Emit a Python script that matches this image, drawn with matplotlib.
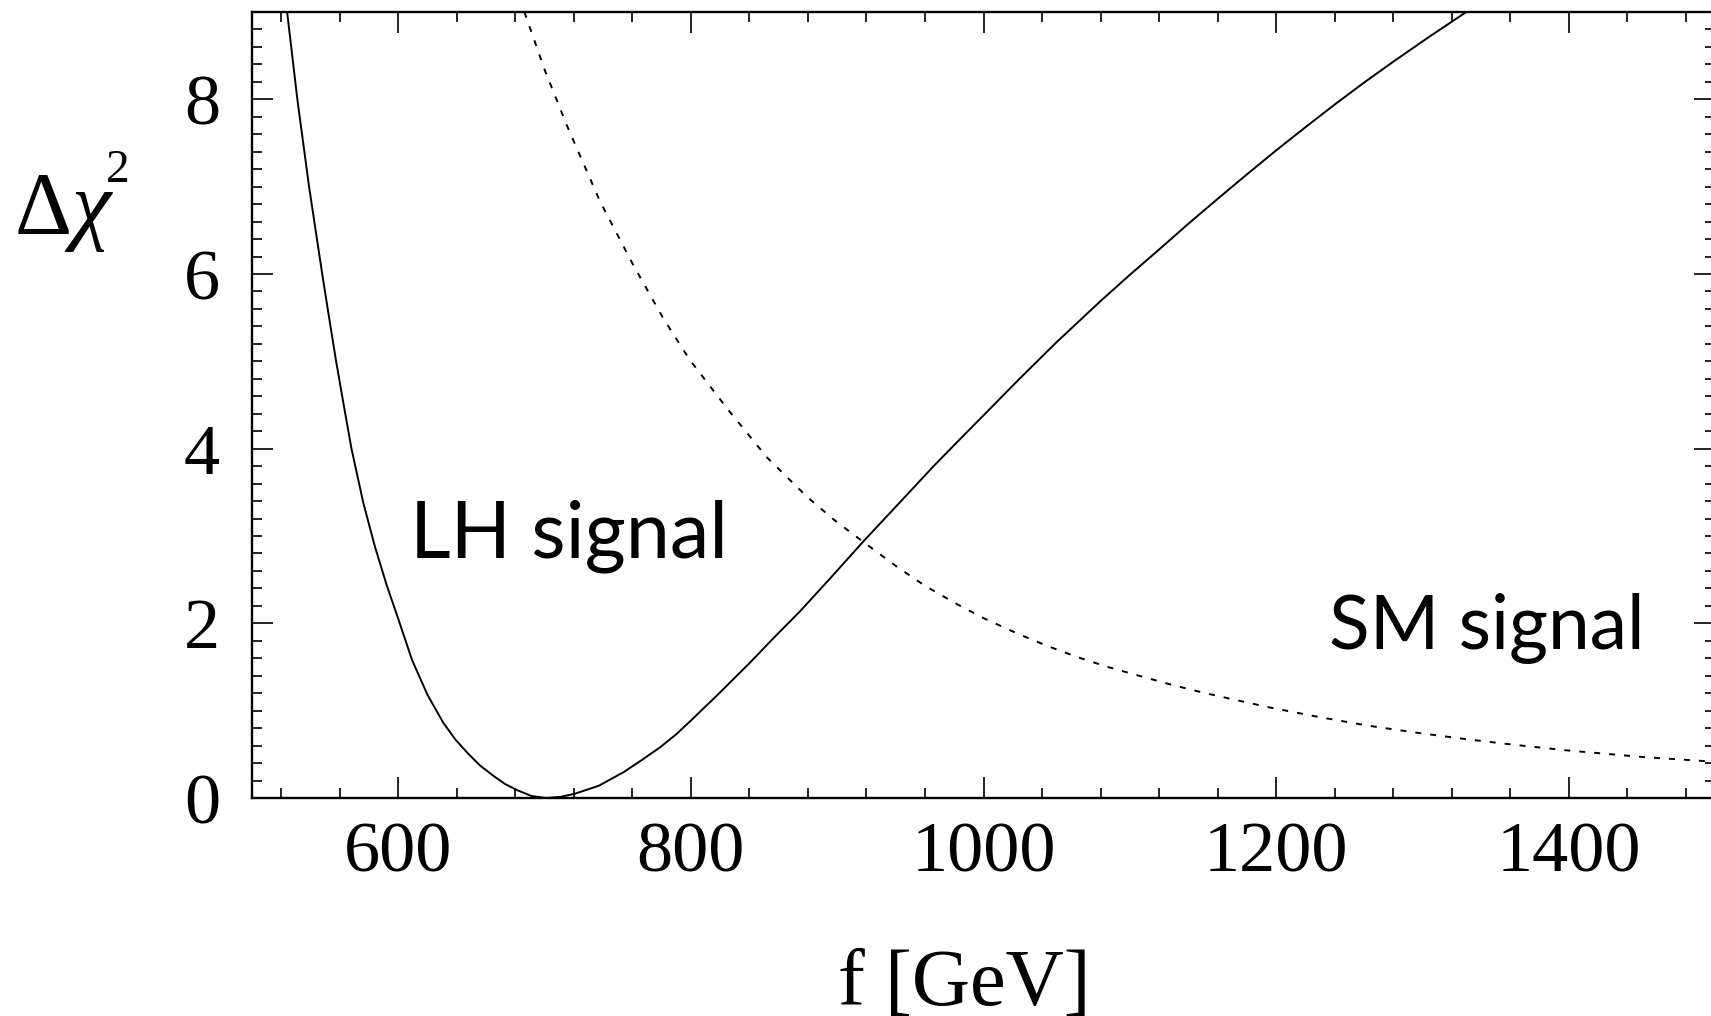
import numpy as np
import matplotlib
matplotlib.use("Agg")
import matplotlib.pyplot as plt
from matplotlib.ticker import MultipleLocator

# solid curve (LH signal fit)
lh_f = [524, 527.5, 531, 535, 539, 543.5, 548, 552.7, 557.5, 562.7, 568, 576,
        584, 592, 600, 609.4, 620, 630.8, 639, 647.6, 656, 665.8, 673, 681.2,
        691, 701, 711, 720.9, 737, 754.4, 766, 778.9, 790, 800.2, 820, 839.8,
        857, 874.7, 896, 918, 942, 965.9, 984, 1002.3, 1024, 1050, 1080, 1100,
        1120, 1140, 1160, 1180, 1200, 1220, 1240, 1260, 1280, 1305, 1330]
lh_chi2 = [9.0, 8.5, 8.0, 7.5, 7.0, 6.5, 6.0, 5.5, 5.0, 4.5, 4.0, 3.385,
           2.88, 2.44, 2.05, 1.58, 1.18, 0.86, 0.67, 0.51, 0.37, 0.244, 0.16, 0.09,
           0.023, 0.0, 0.013, 0.05, 0.14, 0.30, 0.43, 0.58, 0.73, 0.89, 1.21, 1.54,
           1.84, 2.14, 2.53, 2.94, 3.37, 3.80, 4.11, 4.42, 4.79, 5.22, 5.69, 5.99,
           6.28, 6.575, 6.86, 7.14, 7.415, 7.68, 7.94, 8.19, 8.43, 8.72, 9.0]

# dotted curve (SM signal)
sm_f = [686.2, 700, 715, 737.9, 760.7, 781.2, 799.5, 825.7, 852, 879.3, 897.5,
        918, 941.5, 960, 981.8, 1000, 1022.9, 1043, 1063.9, 1085, 1109.5, 1130,
        1150.5, 1173, 1196.1, 1230, 1262.2, 1295, 1330.6, 1365, 1398.9, 1450, 1500]
sm_chi2 = [9.0, 8.34, 7.71, 6.83, 6.10, 5.49, 5.01, 4.44, 3.90, 3.45, 3.19,
           2.93, 2.64, 2.43, 2.22, 2.06, 1.885, 1.745, 1.615, 1.50, 1.385, 1.29,
           1.205, 1.12, 1.035, 0.925, 0.83, 0.75, 0.672, 0.605, 0.545, 0.47, 0.415]

x_ticks = [600, 800, 1000, 1200, 1400]
y_ticks = [0, 2, 4, 6, 8]

plt.rcParams['mathtext.fontset'] = 'custom'
plt.rcParams['mathtext.rm'] = 'Liberation Serif'
plt.rcParams['mathtext.it'] = 'Liberation Serif:italic'
plt.rcParams['lines.scale_dashes'] = False

W, H = 1711, 1016
fig = plt.figure(figsize=(W / 100, H / 100), dpi=100)
ax = fig.add_axes([252 / W, (H - 798) / H, (1715 - 252) / W, (798 - 12) / H])

ax.plot(lh_f, lh_chi2, color='black', lw=1.4)
ax.plot(sm_f, sm_chi2, color='black', lw=1.4, dashes=(4.3, 6.5))

ax.set_xlim(500, 1500)
ax.set_ylim(0, 9)
ax.set_xticks(x_ticks)
ax.set_yticks(y_ticks)
ax.xaxis.set_minor_locator(MultipleLocator(40))
ax.yaxis.set_minor_locator(MultipleLocator(0.2))

for sp in ax.spines.values():
    sp.set_linewidth(1.7)
ax.tick_params(which='both', direction='in', top=True, right=True, width=1.2)
ax.tick_params(which='major', length=15)
ax.tick_params(which='minor', length=7.2)
ax.tick_params(axis='x', which='major', pad=17)
ax.tick_params(axis='y', which='major', pad=23)
for lab in ax.get_xticklabels() + ax.get_yticklabels():
    lab.set_fontfamily('Liberation Serif')
    lab.set_fontsize(52)

ax.text(608, 2.75, 'LH signal', family='Lato', fontsize=57, ha='left', va='baseline')
ax.text(1236, 1.707, 'SM signal', family='Lato', fontsize=54, ha='left', va='baseline')

fig.text(964.5 / W, (H - 1005) / H, 'f [GeV]', family='Liberation Serif',
         fontsize=58, ha='center', va='baseline')
fig.text(14 / W, (H - 233) / H, r'$\Delta\chi$', fontsize=64, ha='left', va='baseline')
fig.text(106 / W, (H - 182) / H, '2', family='Liberation Serif', fontsize=34,
         ha='left', va='baseline')

fig.savefig('out.png', dpi=100)
